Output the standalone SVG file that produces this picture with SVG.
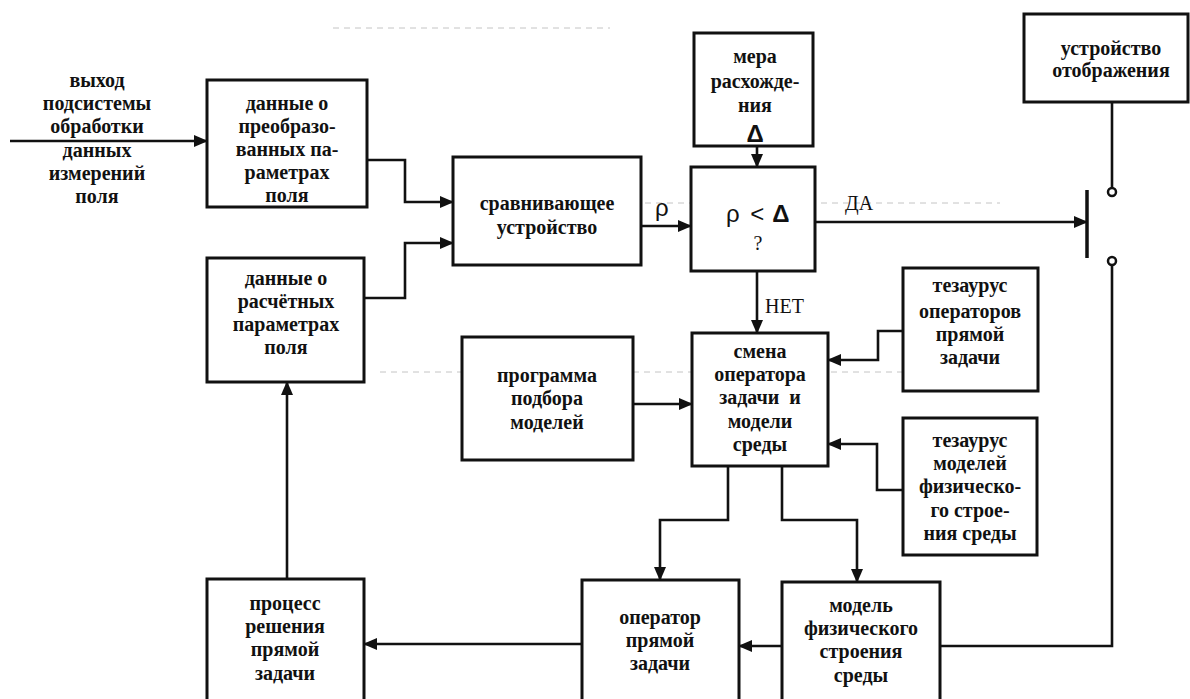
<svg xmlns="http://www.w3.org/2000/svg" width="1190" height="699" viewBox="0 0 1190 699" font-family="Liberation Serif, Times New Roman, serif">
  <style>
    .box { fill: #fff; stroke: #111; stroke-width: 3; }
    .wire { fill: none; stroke: #111; stroke-width: 2.6; }
    .arr { marker-end: url(#head); }
    .t { font-size: 20px; font-weight: bold; fill: #111; text-anchor: middle; }
    .r { font-size: 20px; fill: #111; }
    .g { font-size: 24px; fill: #111; }
    .gb { font-size: 24px; font-weight: bold; fill: #111; }
    .faint { fill: none; stroke: #c4c4c4; stroke-width: 1; stroke-dasharray: 6 5; }
  </style>
  <defs>
    <marker id="head" markerUnits="userSpaceOnUse" markerWidth="14" markerHeight="12" refX="13" refY="6" orient="auto">
      <path d="M0,0 L14,6 L0,12 Z" fill="#111"/>
    </marker>
  </defs>
  <rect width="1190" height="699" fill="#fff"/>

  <!-- light ruling lines of the page -->
  <g id="ruling">
    <path class="faint" d="M333,28 H610"/>
    <path class="faint" d="M590,203 H1000"/>
    <path class="faint" d="M380,372 H960"/>
  </g>

  <!-- input label -->
  <g id="input">
    <text class="t" x="97" y="87">выход</text>
    <text class="t" x="97" y="110">подсистемы</text>
    <text class="t" x="97" y="133">обработки</text>
    <text class="t" x="97" y="157">данных</text>
    <text class="t" x="97" y="180">измерений</text>
    <text class="t" x="97" y="203">поля</text>
  </g>

  <g id="measured">
    <rect class="box" x="207" y="80" width="160" height="127"/>
    <text class="t" x="287" y="110">данные о</text>
    <text class="t" x="287" y="133">преобразо-</text>
    <text class="t" x="287" y="156">ванных па-</text>
    <text class="t" x="287" y="179">раметрах</text>
    <text class="t" x="287" y="202">поля</text>
  </g>

  <g id="computed">
    <rect class="box" x="207" y="258" width="157" height="124"/>
    <text class="t" x="286" y="285">данные о</text>
    <text class="t" x="286" y="308">расчётных</text>
    <text class="t" x="286" y="331">параметрах</text>
    <text class="t" x="286" y="354">поля</text>
  </g>

  <g id="comparator">
    <rect class="box" x="453" y="157" width="188" height="108"/>
    <text class="t" x="547" y="210">сравнивающее</text>
    <text class="t" x="547" y="234">устройство</text>
  </g>

  <g id="measure">
    <rect class="box" x="694" y="33" width="119" height="113"/>
    <text class="t" x="755" y="63">мера</text>
    <text class="t" x="755" y="88">расхожде-</text>
    <text class="t" x="755" y="112">ния</text>
    <text class="gb" x="755" y="142" text-anchor="middle" font-family="Liberation Sans, Arial, sans-serif">Δ</text>
  </g>

  <g id="decision">
    <rect class="box" x="691" y="167" width="124" height="104"/>
    <text class="g" x="726" y="222" font-family="Liberation Sans, Arial, sans-serif">ρ <tspan dx="4">&lt;</tspan><tspan dx="8" font-weight="bold">Δ</tspan></text>
    <text class="r" x="758" y="250" text-anchor="middle">?</text>
  </g>

  <g id="display">
    <rect class="box" x="1024" y="14" width="164" height="88"/>
    <text class="t" x="1111" y="55">устройство</text>
    <text class="t" x="1111" y="77">отображения</text>
  </g>

  <g id="switch">
    <path d="M1087,190 V258" stroke="#111" stroke-width="3.5"/>
    <circle cx="1112" cy="192" r="4" fill="#fff" stroke="#111" stroke-width="2.5"/>
    <circle cx="1112" cy="261" r="4" fill="#fff" stroke="#111" stroke-width="2.5"/>
  </g>

  <g id="thesaurus-operators">
    <rect class="box" x="903" y="268" width="135" height="123"/>
    <text class="t" x="970" y="292">тезаурус</text>
    <text class="t" x="970" y="318">операторов</text>
    <text class="t" x="970" y="341">прямой</text>
    <text class="t" x="970" y="364">задачи</text>
  </g>

  <g id="thesaurus-models">
    <rect class="box" x="903" y="418" width="134" height="137"/>
    <text class="t" x="970" y="447">тезаурус</text>
    <text class="t" x="970" y="470">моделей</text>
    <text class="t" x="970" y="493">физическо-</text>
    <text class="t" x="970" y="517">го строе-</text>
    <text class="t" x="970" y="540">ния среды</text>
  </g>

  <g id="change">
    <rect class="box" x="692" y="333" width="136" height="133"/>
    <text class="t" x="760" y="358">смена</text>
    <text class="t" x="760" y="381">оператора</text>
    <text class="t" x="760" y="404" xml:space="preserve">задачи  и</text>
    <text class="t" x="760" y="428">модели</text>
    <text class="t" x="760" y="451">среды</text>
  </g>

  <g id="selection">
    <rect class="box" x="462" y="337" width="171" height="123"/>
    <text class="t" x="547" y="382">программа</text>
    <text class="t" x="547" y="405">подбора</text>
    <text class="t" x="547" y="429">моделей</text>
  </g>

  <g id="process">
    <rect class="box" x="207" y="579" width="157" height="140"/>
    <text class="t" x="285" y="610">процесс</text>
    <text class="t" x="285" y="633">решения</text>
    <text class="t" x="285" y="656">прямой</text>
    <text class="t" x="285" y="680">задачи</text>
  </g>

  <g id="operator">
    <rect class="box" x="582" y="580" width="157" height="140"/>
    <text class="t" x="660" y="624">оператор</text>
    <text class="t" x="660" y="647">прямой</text>
    <text class="t" x="660" y="670">задачи</text>
  </g>

  <g id="model">
    <rect class="box" x="782" y="582" width="158" height="140"/>
    <text class="t" x="861" y="612">модель</text>
    <text class="t" x="861" y="635">физического</text>
    <text class="t" x="861" y="658">строения</text>
    <text class="t" x="861" y="682">среды</text>
  </g>

  <g id="connectors">
    <path class="wire arr" d="M10,141 H207"/>
    <path class="wire arr" d="M367,160 H405 V202 H453"/>
    <path class="wire arr" d="M364,298 H405 V243 H453"/>
    <path class="wire arr" d="M641,226 H691"/>
    <path class="wire arr" d="M757,146 V167"/>
    <path class="wire arr" d="M757,271 V333"/>
    <path class="wire arr" d="M815,222 H1087"/>
    <path class="wire" d="M1112,102 V188"/>
    <path class="wire" d="M1112,265 V646 H940"/>
    <path class="wire arr" d="M903,331 H878 V360 H828"/>
    <path class="wire arr" d="M903,490 H877 V444 H828"/>
    <path class="wire arr" d="M633,404 H692"/>
    <path class="wire arr" d="M728,466 V520 H660 V580"/>
    <path class="wire arr" d="M782,466 V520 H857 V582"/>
    <path class="wire arr" d="M782,646 H739"/>
    <path class="wire arr" d="M582,644 H364"/>
    <path class="wire arr" d="M287,579 V382"/>
    <text class="g" x="655" y="216" font-family="Liberation Sans, Arial, sans-serif">ρ</text>
    <text class="r" x="765" y="313">НЕТ</text>
    <text class="r" x="845" y="210">ДА</text>
  </g>
</svg>
